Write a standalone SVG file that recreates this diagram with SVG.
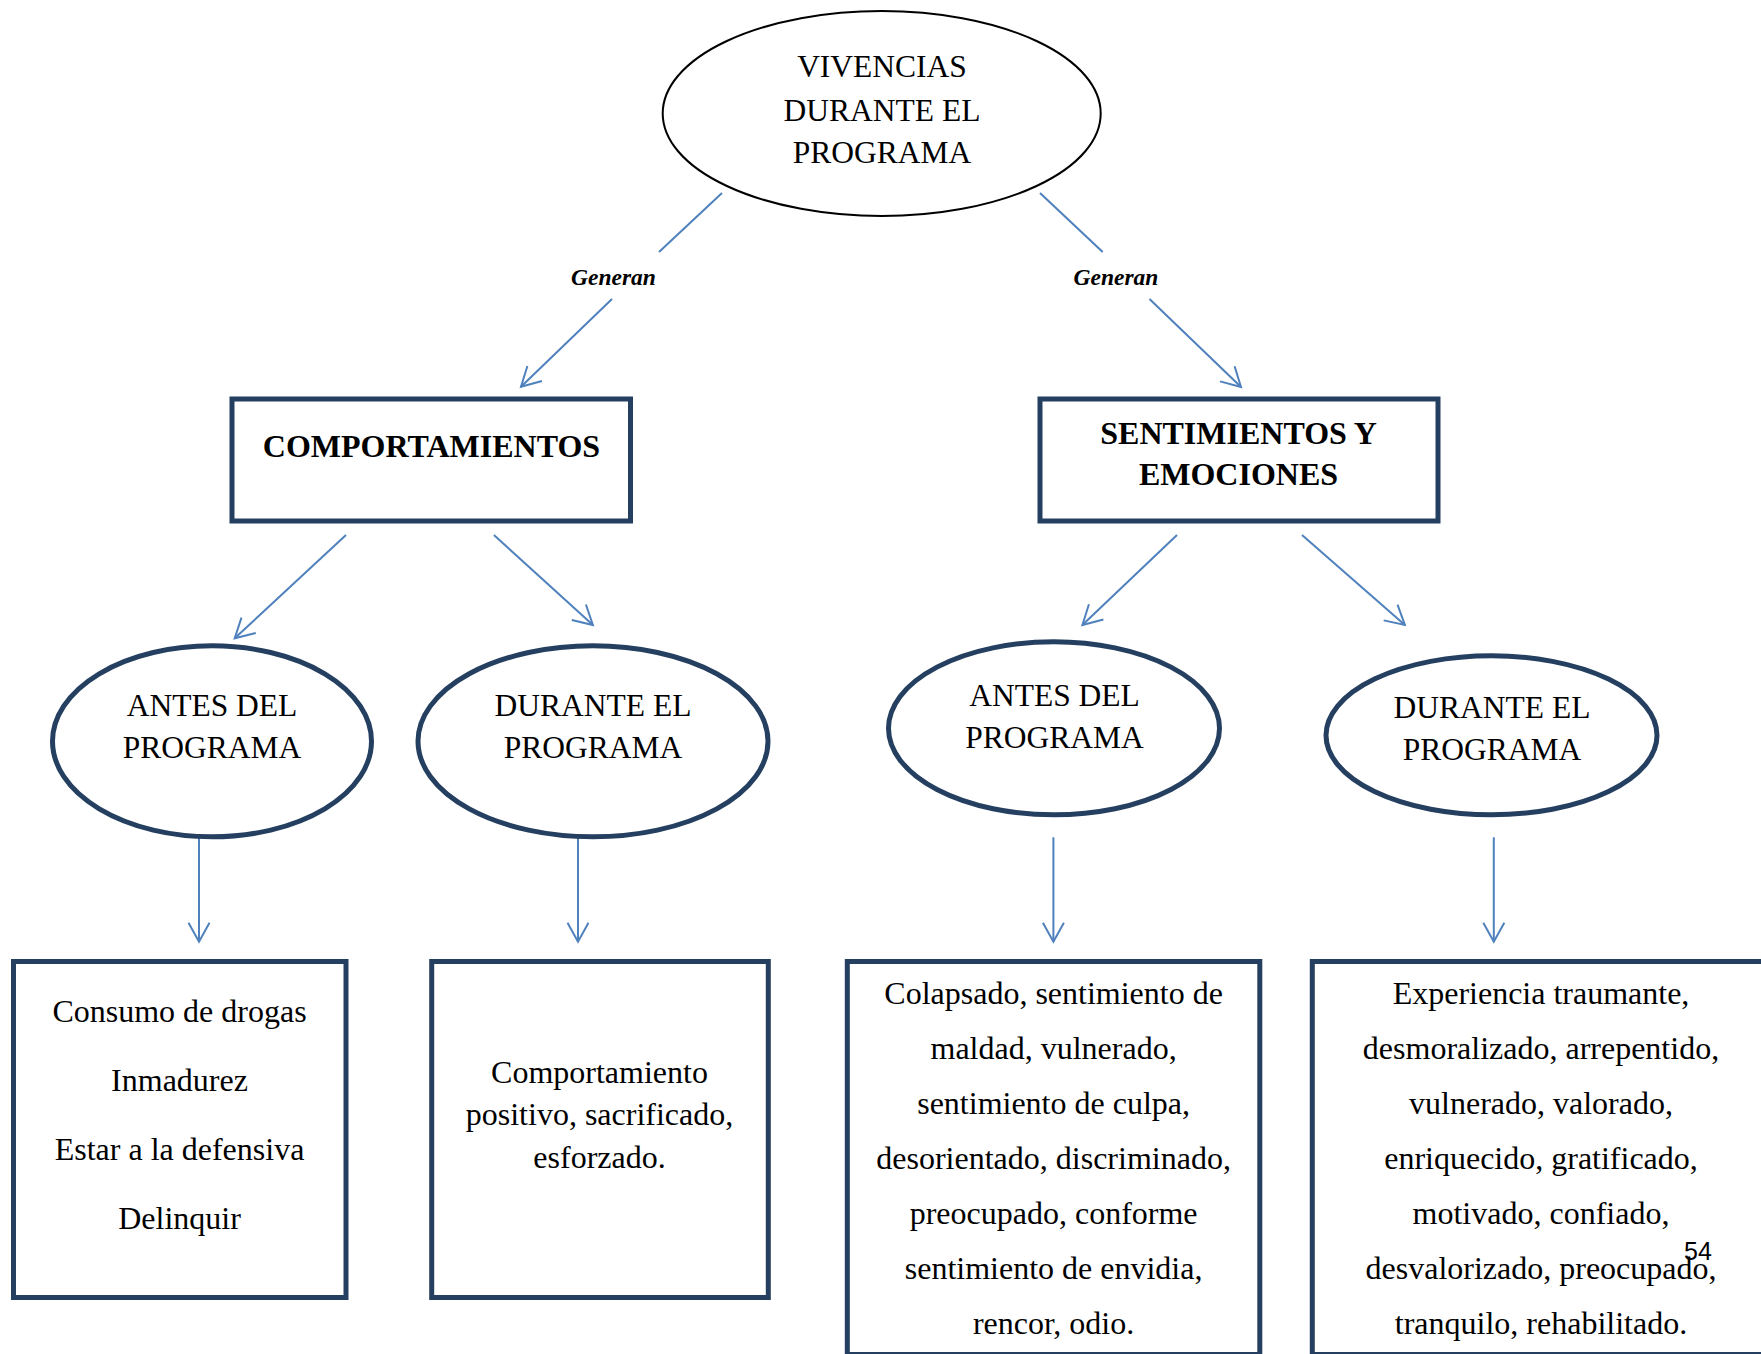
<svg xmlns="http://www.w3.org/2000/svg" width="1761" height="1354" viewBox="0 0 1761 1354">
<style>
.bg{fill:#ffffff}
.nav{fill:#ffffff;stroke:#243F60;stroke-width:5}
.top{fill:#ffffff;stroke:#000000;stroke-width:2}
.t{font-family:"Liberation Serif","Times New Roman",serif;font-size:31.5px;fill:#000;text-anchor:middle}
.b{font-family:"Liberation Serif","Times New Roman",serif;font-size:32px;font-weight:bold;fill:#000;text-anchor:middle}
.body{font-family:"Liberation Serif","Times New Roman",serif;font-size:32px;fill:#000;text-anchor:middle}
.lbl{font-family:"Liberation Serif","Times New Roman",serif;font-size:23.5px;font-weight:bold;font-style:italic;fill:#000;text-anchor:middle}
.c{stroke:#4F81BD;stroke-width:2;fill:none}
.pg{font-family:"Liberation Sans",Arial,sans-serif;font-size:25px;fill:#000}
</style>
<defs>
<marker id="ah" viewBox="-24 -14 28 28" markerWidth="28" markerHeight="28" refX="0" refY="0" markerUnits="userSpaceOnUse" orient="auto">
<path d="M -19 -10.5 L 0 0 L -19 10.5" fill="none" stroke="#4F81BD" stroke-width="2"/>
</marker>
</defs>
<rect class="bg" x="0" y="0" width="1761" height="1354"/>

<g id="connectors">
<line class="c" x1="722" y1="193" x2="659" y2="252"/>
<line class="c" x1="612" y1="299" x2="521" y2="386.7" marker-end="url(#ah)"/>
<line class="c" x1="1040" y1="193" x2="1102.7" y2="252"/>
<line class="c" x1="1149.5" y1="299" x2="1241" y2="387" marker-end="url(#ah)"/>
<line class="c" x1="346" y1="535" x2="234.7" y2="638.3" marker-end="url(#ah)"/>
<line class="c" x1="493.9" y1="535" x2="592.9" y2="625" marker-end="url(#ah)"/>
<line class="c" x1="1177" y1="535" x2="1082.4" y2="625" marker-end="url(#ah)"/>
<line class="c" x1="1302" y1="535" x2="1404.9" y2="625" marker-end="url(#ah)"/>
<line class="c" x1="199" y1="838" x2="199" y2="941.7" marker-end="url(#ah)"/>
<line class="c" x1="578" y1="838" x2="578" y2="941.7" marker-end="url(#ah)"/>
<line class="c" x1="1053.4" y1="837.3" x2="1053.4" y2="941.7" marker-end="url(#ah)"/>
<line class="c" x1="1493.8" y1="837.3" x2="1493.8" y2="941.7" marker-end="url(#ah)"/>
<text class="lbl" x="613.5" y="284.5">Generan</text>
<text class="lbl" x="1116" y="284.5">Generan</text>
</g>

<g id="vivencias">
<ellipse class="top" cx="881.7" cy="113.5" rx="219" ry="102.5"/>
<text class="t" x="882" y="77">VIVENCIAS</text>
<text class="t" x="882" y="121">DURANTE EL</text>
<text class="t" x="882" y="163">PROGRAMA</text>
</g>

<g id="comportamientos">
<rect class="nav" x="232" y="399" width="398.5" height="122"/>
<text class="b" x="431.5" y="456.5">COMPORTAMIENTOS</text>
</g>

<g id="sentimientos">
<rect class="nav" x="1040" y="399" width="398" height="122"/>
<text class="b" x="1238.5" y="443.5">SENTIMIENTOS Y</text>
<text class="b" x="1238.5" y="484.5">EMOCIONES</text>
</g>

<g id="comp-antes">
<ellipse class="nav" cx="212" cy="741.3" rx="159.5" ry="95.5"/>
<text class="t" x="212" y="716">ANTES DEL</text>
<text class="t" x="212" y="758">PROGRAMA</text>
</g>

<g id="comp-durante">
<ellipse class="nav" cx="593" cy="741.3" rx="175" ry="95.5"/>
<text class="t" x="593" y="716">DURANTE EL</text>
<text class="t" x="593" y="758">PROGRAMA</text>
</g>

<g id="sent-antes">
<ellipse class="nav" cx="1054" cy="728.3" rx="165.5" ry="86.5"/>
<text class="t" x="1054.5" y="706">ANTES DEL</text>
<text class="t" x="1054.5" y="747.5">PROGRAMA</text>
</g>

<g id="sent-durante">
<ellipse class="nav" cx="1491.5" cy="735.3" rx="165.5" ry="79.5"/>
<text class="t" x="1492" y="717.5">DURANTE EL</text>
<text class="t" x="1492" y="759.5">PROGRAMA</text>
</g>

<g id="comp-antes-list">
<rect class="nav" x="13.5" y="961.5" width="332.5" height="336"/>
<text class="body" x="179.5" y="1022">Consumo de drogas</text>
<text class="body" x="179.5" y="1091.3">Inmadurez</text>
<text class="body" x="179.5" y="1160.3">Estar a la defensiva</text>
<text class="body" x="179.5" y="1229.3">Delinquir</text>
</g>

<g id="comp-durante-list">
<rect class="nav" x="431.7" y="961.5" width="336.6" height="336"/>
<text class="body" x="599.5" y="1083">Comportamiento</text>
<text class="body" x="599.5" y="1125">positivo, sacrificado,</text>
<text class="body" x="599.5" y="1167.5">esforzado.</text>
</g>

<g id="sent-antes-list">
<rect class="nav" x="847.3" y="961.5" width="412.5" height="393"/>
<text class="body" x="1053.6" y="1004">Colapsado, sentimiento de</text>
<text class="body" x="1053.6" y="1059">maldad, vulnerado,</text>
<text class="body" x="1053.6" y="1114">sentimiento de culpa,</text>
<text class="body" x="1053.6" y="1169">desorientado, discriminado,</text>
<text class="body" x="1053.6" y="1224">preocupado, conforme</text>
<text class="body" x="1053.6" y="1279">sentimiento de envidia,</text>
<text class="body" x="1053.6" y="1334">rencor, odio.</text>
</g>

<g id="sent-durante-list">
<rect class="nav" x="1312.3" y="961.5" width="460" height="393"/>
<text class="body" x="1541" y="1004">Experiencia traumante,</text>
<text class="body" x="1541" y="1059">desmoralizado, arrepentido,</text>
<text class="body" x="1541" y="1114">vulnerado, valorado,</text>
<text class="body" x="1541" y="1169">enriquecido, gratificado,</text>
<text class="body" x="1541" y="1224">motivado, confiado,</text>
<text class="body" x="1541" y="1279">desvalorizado, preocupado,</text>
<text class="body" x="1541" y="1334">tranquilo, rehabilitado.</text>
</g>

<text class="pg" x="1684" y="1260">54</text>
</svg>
